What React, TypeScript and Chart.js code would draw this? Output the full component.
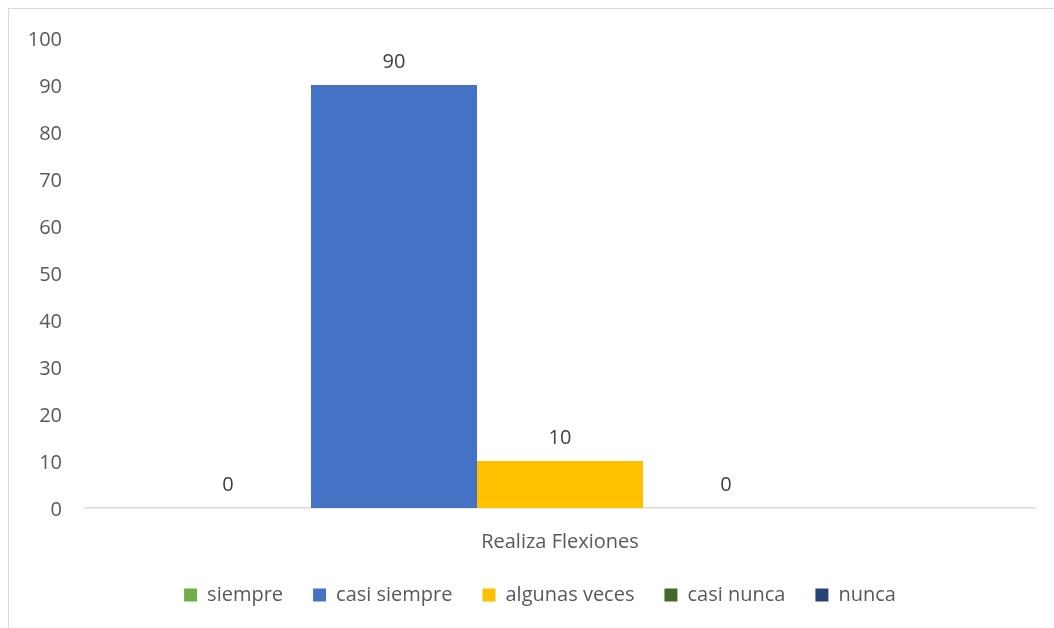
import React, { useEffect, useRef } from "react";
import { Chart, registerables } from "chart.js";

Chart.register(...registerables);

const categories = ["Realiza Flexiones"];
const seriesNames = ["siempre", "casi siempre", "algunas veces", "casi nunca", "nunca"];
const siempre = [0];
const casiSiempre = [90];
const algunasVeces = [10];
const casiNunca = [0];
const nunca: (number | null)[] = [null];
const seriesColors = ["#70AD47", "#4472C4", "#FFC000", "#43682B", "#264478"];
const yTicks = [0, 10, 20, 30, 40, 50, 60, 70, 80, 90, 100];

const FONT = "'Open Sans', sans-serif";

const dataLabelPlugin = {
  id: "dataLabels",
  afterDatasetsDraw(chart: any) {
    const ctx = chart.ctx;
    ctx.save();
    ctx.font = `20px ${FONT}`;
    ctx.fillStyle = "#404040";
    ctx.textAlign = "center";
    ctx.textBaseline = "middle";
    chart.data.datasets.forEach((ds: any, i: number) => {
      const meta = chart.getDatasetMeta(i);
      meta.data.forEach((el: any, j: number) => {
        const v = ds.data[j];
        if (v === null || v === undefined) return;
        ctx.fillText(String(v), el.x, el.y - 23);
      });
    });
    ctx.restore();
  },
};

// Centre the legend on the whole chart frame (as in the original) rather than on the canvas box.
const legendShiftPlugin = {
  id: "legendShift",
  afterLayout(chart: any) {
    const lg = chart.legend;
    if (!lg) return;
    lg.left = 45;
    lg.width = lg.right - lg.left;
  },
};

export default function App() {
  const canvasRef = useRef<HTMLCanvasElement | null>(null);

  useEffect(() => {
    if (!canvasRef.current) return;
    const values = [siempre, casiSiempre, algunasVeces, casiNunca, nunca];
    const chart = new Chart(canvasRef.current, {
      type: "bar",
      data: {
        labels: categories,
        datasets: seriesNames.map((name, i) => ({
          label: name,
          data: values[i],
          backgroundColor: seriesColors[i],
          borderWidth: 0,
          categoryPercentage: 0.8737,
          barPercentage: 1,
        })),
      },
      options: {
        animation: false,
        responsive: false,
        devicePixelRatio: 1,
        layout: { padding: { left: 0, right: 19, top: 38, bottom: 13 } },
        plugins: {
          tooltip: { enabled: false },
          legend: {
            position: "bottom",
            labels: {
              boxWidth: 13,
              boxHeight: 13,
              padding: 30,
              color: "#595959",
              font: { family: FONT, size: 20 },
            },
          },
        },
        scales: {
          x: {
            grid: { display: false, drawTicks: false },
            border: { display: true, color: "#D9D9D9", width: 1.5 },
            ticks: {
              color: "#595959",
              font: { family: FONT, size: 20 },
              padding: 22,
            },
            afterFit(scale: any) {
              scale.height = 47;
            },
          },
          y: {
            min: 0,
            max: 100,
            grid: { display: false, drawTicks: false },
            border: { display: false },
            afterBuildTicks(scale: any) {
              scale.ticks = yTicks.map((v) => ({ value: v }));
            },
            ticks: {
              color: "#595959",
              font: { family: FONT, size: 20 },
              padding: 23,
              labelOffset: 2.5,
            },
            afterFit(scale: any) {
              scale.width = 85;
            },
          },
        },
      },
      plugins: [dataLabelPlugin, legendShiftPlugin],
    });
    return () => chart.destroy();
  }, []);

  return (
    <div style={{ position: "fixed", left: 0, top: 0, width: 1054, height: 628, overflow: "hidden", background: "#fff" }}>
      <div
        style={{
          position: "absolute",
          left: 8,
          top: 8,
          width: 1200,
          height: 800,
          border: "1.5px solid #D9D9D9",
          boxSizing: "border-box",
        }}
      />
      <canvas ref={canvasRef} width={1054} height={628} style={{ position: "absolute", left: 0, top: 0 }} />
    </div>
  );
}
